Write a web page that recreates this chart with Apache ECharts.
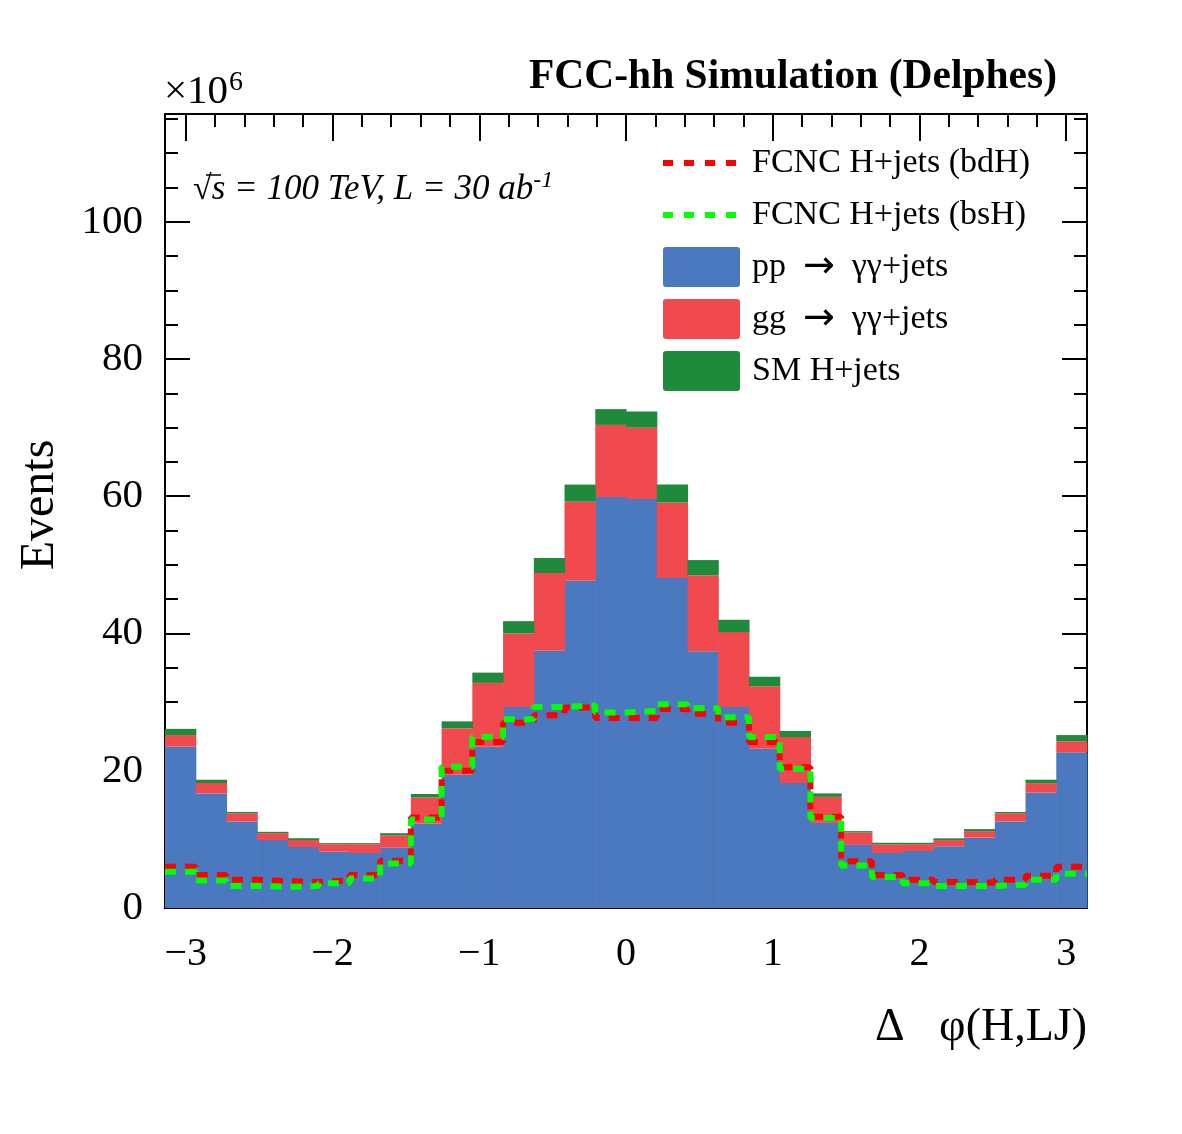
<!DOCTYPE html>
<html><head><meta charset="utf-8">
<script src="https://cdn.jsdelivr.net/npm/echarts@6/dist/echarts.min.js"></script>
<style>html,body{margin:0;padding:0;background:#fff}#c{width:1182px;height:1134px}</style>
</head><body><div id="c"></div>
<script>
// ---- binning: 30 bins in delta-phi from -pi to pi ----
const nBins = 30;
const phiMin = -Math.PI, phiMax = Math.PI;

// ---- tick labels ----
const xTickLabels = [-3, -2, -1, 0, 1, 2, 3];
const yTickLabels = [0, 20, 40, 60, 80, 100];
const yMax = 115.7;

// ---- series values (x10^6 events per bin) ----
const ppGammaGamma = [23.5, 16.7, 12.6, 9.9, 8.9, 8.2, 8.0, 8.8, 12.3, 19.4,
                      23.5, 29.3, 37.5, 47.7, 59.9, 59.6, 48.1, 37.4, 29.3, 23.2,
                      18.2, 12.4, 9.2, 8.0, 8.3, 9.0, 10.25, 12.6, 16.8, 22.7];
const ggGammaGamma = [1.7, 1.5, 1.2, 1.0, 1.0, 1.1, 1.3, 1.8, 3.8, 6.8,
                      9.3, 10.7, 11.3, 11.5, 10.5, 10.4, 11.0, 11.1, 10.9, 9.1,
                      6.7, 3.8, 1.8, 1.3, 1.0, 0.9, 0.95, 1.2, 1.4, 1.6];
const smHiggsJets  = [0.9, 0.5, 0.2, 0.2, 0.25, 0.15, 0.15, 0.3, 0.5, 1.0,
                      1.5, 1.8, 2.2, 2.5, 2.3, 2.35, 2.6, 2.2, 1.8, 1.4,
                      0.9, 0.5, 0.2, 0.2, 0.2, 0.25, 0.3, 0.2, 0.5, 0.9];
const fcncBdH = [6.0, 4.8, 4.1, 3.9, 3.8, 4.0, 4.8, 6.9, 13.2, 20.0,
                 24.2, 27.0, 28.1, 29.2, 27.7, 27.7, 29.0, 28.3, 27.0, 24.2,
                 20.5, 13.3, 6.8, 4.8, 4.1, 3.8, 3.7, 4.1, 4.7, 6.0];
const fcncBsH = [5.3, 4.0, 3.2, 3.1, 3.2, 3.6, 4.3, 6.5, 12.9, 20.6,
                 24.9, 27.5, 29.3, 29.5, 28.5, 28.7, 29.7, 29.1, 27.8, 24.9,
                 20.3, 13.1, 6.2, 4.5, 3.6, 3.2, 3.2, 3.4, 4.1, 5.0];

const names = {
  bdH: 'FCNC H+jets (bdH)',
  bsH: 'FCNC H+jets (bsH)',
  pp: 'pp  \u2192  \u03b3\u03b3+jets',
  gg: 'gg  \u2192  \u03b3\u03b3+jets',
  sm: 'SM H+jets'
};
const colors = { pp: '#4a79bf', gg: '#f04a4e', sm: '#1f8a3c', bdH: '#ff0000', bsH: '#00ff00' };

// ---- build bin edges and stacked data ----
const binW = (phiMax - phiMin) / nBins;
const edges = [];
for (let k = 0; k <= nBins; k++) edges.push(phiMin + k * binW);

function stackedData(lower, comp) {
  return comp.map((v, k) => [edges[k], edges[k + 1], lower[k], lower[k] + v]);
}
const zeros = ppGammaGamma.map(() => 0);
const topPP = ppGammaGamma.slice();
const topGG = ppGammaGamma.map((v, k) => v + ggGammaGamma[k]);
const dataPP = stackedData(zeros, ppGammaGamma);
const dataGG = stackedData(topPP, ggGammaGamma);
const dataSM = stackedData(topGG, smHiggsJets);

function stepData(vals) {
  const d = vals.map((v, k) => [edges[k], v]);
  d.push([edges[nBins], vals[nBins - 1]]);
  return d;
}

function renderBin(params, api) {
  const p0 = api.coord([api.value(0), api.value(3)]);
  const p1 = api.coord([api.value(1), api.value(2)]);
  return {
    type: 'rect',
    shape: { x: p0[0], y: p0[1], width: p1[0] - p0[0] + 0.6, height: p1[1] - p0[1] },
    style: { fill: api.visual('color') }
  };
}

// minor tick positions
const xMinor = [];
for (let k = -15; k <= 15; k++) { if (k % 5 !== 0) xMinor.push(k * 0.2); }
const yMinor = [];
for (let v = 5; v < yMax; v += 5) { if (v % 20 !== 0) yMinor.push(v); }

const serif = "'Liberation Serif', 'DejaVu Serif', serif";
const black = '#000';

function xAxisDef(pos, major) {
  return {
    type: 'value', min: phiMin, max: phiMax, position: pos, gridIndex: 0,
    axisLine: { show: major, onZero: false, lineStyle: { color: black, width: 2 } },
    splitLine: { show: false },
    axisTick: { show: true, inside: true, length: major ? 27 : 13,
                customValues: major ? xTickLabels : xMinor,
                lineStyle: { color: black, width: 2 } },
    axisLabel: { show: major && pos === 'bottom', customValues: xTickLabels,
                 margin: 26, fontFamily: serif, fontSize: 40, color: black,
                 formatter: v => (v < 0 ? '\u2212' + Math.abs(v) : String(v)) }
  };
}
function yAxisDef(pos, major) {
  return {
    type: 'value', min: 0, max: yMax, position: pos, gridIndex: 0,
    axisLine: { show: major, onZero: false, lineStyle: { color: black, width: 2 } },
    splitLine: { show: false },
    axisTick: { show: true, inside: true, length: major ? 25 : 13,
                customValues: major ? yTickLabels : yMinor,
                lineStyle: { color: black, width: 2 } },
    axisLabel: { show: major && pos === 'left', customValues: yTickLabels,
                 margin: 22, fontFamily: serif, fontSize: 41, color: black }
  };
}

// legend glyphs (77x40 box)
const dashIcon = 'path://M0,0L0.01,0L0.01,0.01ZM77,40L76.99,40L76.99,39.99Z' +
  'M0,17h10v6h-10zM21,17h10v6h-10zM42,17h10v6h-10zM63,17h10v6h-10z';
const boxIcon = 'path://M3,0H74Q77,0 77,3V37Q77,40 74,40H3Q0,40 0,37V3Q0,0 3,0Z';

const chart = echarts.init(document.getElementById('c'), null, { renderer: 'canvas' });
chart.setOption({
  animation: false,
  backgroundColor: '#fff',
  grid: { left: 165, top: 114, right: 95, bottom: 226 },
  xAxis: [xAxisDef('bottom', true), xAxisDef('bottom', false), xAxisDef('top', true), xAxisDef('top', false)],
  yAxis: [yAxisDef('left', true), yAxisDef('left', false), yAxisDef('right', true), yAxisDef('right', false)],
  legend: {
    orient: 'vertical', left: 663, top: 143, padding: 0, itemWidth: 77, itemHeight: 40, itemGap: 12,
    selectedMode: false,
    formatter: n => n.replace('  \u2192  ', '{sp|  }{a|\u2192}{sp|  }'),
    textStyle: { fontFamily: serif, fontSize: 34, color: black, padding: [0, 0, 0, 7],
                 rich: { a: { fontFamily: "'DejaVu Sans', sans-serif", fontSize: 38, color: black },
                         sp: { fontFamily: serif, fontSize: 34, color: black } } },
    data: [
      { name: names.bdH, icon: dashIcon },
      { name: names.bsH, icon: dashIcon },
      { name: names.pp, icon: boxIcon },
      { name: names.gg, icon: boxIcon },
      { name: names.sm, icon: boxIcon }
    ]
  },
  series: [
    { type: 'custom', name: names.pp, renderItem: renderBin, data: dataPP,
      itemStyle: { color: colors.pp }, encode: { x: [0, 1], y: [2, 3] }, z: 2 },
    { type: 'custom', name: names.gg, renderItem: renderBin, data: dataGG,
      itemStyle: { color: colors.gg }, encode: { x: [0, 1], y: [2, 3] }, z: 2 },
    { type: 'custom', name: names.sm, renderItem: renderBin, data: dataSM,
      itemStyle: { color: colors.sm }, encode: { x: [0, 1], y: [2, 3] }, z: 2 },
    { type: 'line', name: names.bdH, data: stepData(fcncBdH), step: 'end', symbol: 'none',
      lineStyle: { color: colors.bdH, width: 6, type: [11, 9], cap: 'butt' },
      itemStyle: { color: colors.bdH }, z: 3 },
    { type: 'line', name: names.bsH, data: stepData(fcncBsH), step: 'end', symbol: 'none',
      lineStyle: { color: colors.bsH, width: 6, type: [11, 9], cap: 'butt' },
      itemStyle: { color: colors.bsH }, z: 4 }
  ],
  graphic: [
    { type: 'text', x: 1057, y: 77, z: 10,
      style: { text: 'FCC-hh Simulation (Delphes)', font: "bold 41.5px " + serif, fill: black,
               align: 'right', verticalAlign: 'middle' } },
    { type: 'text', x: 164, y: 91, z: 10,
      style: { text: '{a|\u00d710}{b|6}', fill: black, align: 'left', verticalAlign: 'middle',
               rich: { a: { font: "41px " + serif, fill: black, verticalAlign: 'bottom' },
                       b: { font: "28px " + serif, fill: black, verticalAlign: 'top', padding: [0, 0, 16, 1] } } } },
    { type: 'text', x: 193, y: 190, z: 10,
      style: { text: '{r|\u221a}{i|s = 100 TeV, L = 30 ab}{s|-1}', fill: black, align: 'left', verticalAlign: 'middle',
               rich: { r: { font: "34px " + serif, fill: black },
                       i: { font: "italic 35px " + serif, fill: black },
                       s: { font: "italic 24px " + serif, fill: black, padding: [0, 0, 18, 0] } } } },
    { type: 'line', z: 10, shape: { x1: 206, y1: 175, x2: 221, y2: 175 },
      style: { stroke: black, lineWidth: 1.5 } },
    { type: 'text', x: 40, y: 505, rotation: Math.PI / 2, z: 10,
      style: { text: 'Events', font: "48px " + serif, fill: black, align: 'center', verticalAlign: 'middle' } },
    { type: 'text', x: 1087, y: 1028, z: 10,
      style: { text: '\u0394   \u03c6(H,LJ)', font: "46px " + serif, fill: black, align: 'right', verticalAlign: 'middle' } }
  ]
});
</script>
</body></html>
